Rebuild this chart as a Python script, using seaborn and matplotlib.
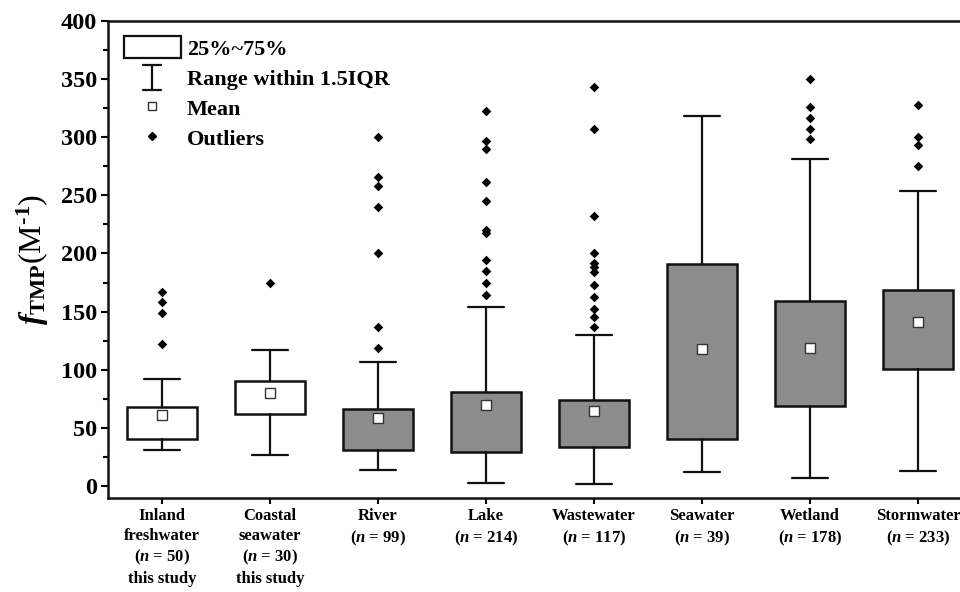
import pandas as pd
import numpy as np
import matplotlib
matplotlib.use('Agg')
import matplotlib.pyplot as plt
import seaborn as sns
from matplotlib.patches import Rectangle
from matplotlib.lines import Line2D
from matplotlib.legend_handler import HandlerBase
from matplotlib.ticker import MultipleLocator

# Data: fTMP box statistics
categories = ['Inland\nfreshwater\n($n$ = 50)\nthis study',
              'Coastal\nseawater\n($n$ = 30)\nthis study',
              'River\n($n$ = 99)', 'Lake\n($n$ = 214)', 'Wastewater\n($n$ = 117)',
              'Seawater\n($n$ = 39)', 'Wetland\n($n$ = 178)', 'Stormwater\n($n$ = 233)']
q1 = [41, 62, 31, 29, 34, 41, 69, 101]
q3 = [68, 90, 66, 81, 74, 191, 159, 169]
whis_low = [31, 27, 14, 3, 2, 12, 7, 13]
whis_high = [92, 117, 107, 154, 130, 318, 281, 254]
means = [61, 80, 59, 70, 65, 118, 119, 141]
outliers = [
    [122, 149, 158, 167],
    [175],
    [119, 137, 200, 240, 258, 266, 300],
    [164, 175, 185, 194, 218, 220, 245, 261, 290, 297, 322],
    [137, 145, 152, 163, 173, 184, 188, 192, 200, 232, 307, 343],
    [],
    [298, 307, 316, 326, 350],
    [275, 293, 300, 328],
]
box_colors = ['white', 'white', '#8c8c8c', '#8c8c8c', '#8c8c8c', '#8c8c8c', '#8c8c8c', '#8c8c8c']

sns.set_theme(style='ticks')
plt.rcParams['font.family'] = ['Liberation Serif', 'DejaVu Serif']
plt.rcParams['font.weight'] = 'bold'
plt.rcParams['mathtext.fontset'] = 'custom'
plt.rcParams['mathtext.rm'] = 'Liberation Serif:bold'
plt.rcParams['mathtext.bf'] = 'Liberation Serif:bold'
plt.rcParams['mathtext.it'] = 'Liberation Serif:bold:italic'
for key in ['text.color', 'axes.labelcolor', 'xtick.color', 'ytick.color']:
    plt.rcParams[key] = 'black'

fig = plt.figure(figsize=(9.6, 5.92), dpi=100)
ax = fig.add_axes([0.1125, 0.159, 0.9, 0.806])

stats = []
for i in range(len(categories)):
    stats.append(dict(q1=q1[i], q3=q3[i], med=q1[i], whislo=whis_low[i], whishi=whis_high[i],
                      mean=means[i], fliers=[], label=categories[i]))

bp = ax.bxp(stats, positions=range(len(categories)), widths=0.64, patch_artist=True,
            showmeans=True, showfliers=False,
            boxprops=dict(linewidth=1.8, edgecolor='#111111'),
            whiskerprops=dict(linewidth=1.6, color='#111111'),
            capprops=dict(linewidth=1.6, color='#111111'),
            medianprops=dict(visible=False),
            meanprops=dict(marker='s', markerfacecolor='white', markeredgecolor='#333333',
                           markersize=6.5, markeredgewidth=1.0),
            capwidths=0.34)
for patch, c in zip(bp['boxes'], box_colors):
    patch.set_facecolor(c)

fl = pd.DataFrame([(i, v) for i, vals in enumerate(outliers) for v in vals], columns=['pos', 'value'])
sns.scatterplot(data=fl, x='pos', y='value', marker='D', color='black', s=24, linewidth=0, ax=ax, zorder=3)

ax.set_xlim(-0.5, 7.5)
ax.set_ylim(-10, 400)
ax.set_xticks(range(len(categories)))
ax.set_xticklabels(categories, fontsize=12, fontweight='bold', linespacing=1.3)
ax.yaxis.set_major_locator(MultipleLocator(50))
ax.yaxis.set_minor_locator(MultipleLocator(25))
ax.tick_params(axis='y', which='major', labelsize=17.5, length=5, width=1.5, direction='out', pad=3)
ax.tick_params(axis='y', which='minor', length=3.5, width=1.5, direction='out')
ax.tick_params(axis='x', length=4.5, width=1.5, direction='out', pad=3)
for lab in ax.get_yticklabels():
    lab.set_fontweight('bold')
ax.set_xlabel('')
ax.set_ylabel(r'$f_{\mathrm{TMP}}$(M$^{\text{-1}}$)', fontsize=23, labelpad=7)
for s in ['left', 'bottom', 'top', 'right']:
    ax.spines[s].set_linewidth(1.8)
    ax.spines[s].set_color('#111111')


class WhiskerHandler(HandlerBase):
    def create_artists(self, legend, orig_handle, xdescent, ydescent, width, height, fontsize, trans):
        cx = width / 2 - xdescent
        y0 = -0.05 * height - ydescent
        y1 = 1.05 * height - ydescent
        w = 6.5
        kw = dict(color='#111111', linewidth=1.6, transform=trans)
        return [Line2D([cx, cx], [y0, y1], **kw),
                Line2D([cx - w, cx + w], [y0, y0], **kw),
                Line2D([cx - w, cx + w], [y1, y1], **kw)]


handles = [Rectangle((0, 0), 1, 1, facecolor='white', edgecolor='#111111', linewidth=1.6),
           'whisker',
           Line2D([], [], linestyle='none', marker='s', markerfacecolor='white',
                  markeredgecolor='#333333', markersize=6),
           Line2D([], [], linestyle='none', marker='D', color='black', markersize=4.5)]
labels = ['25%~75%', 'Range within 1.5IQR', 'Mean', 'Outliers']
ax.legend(handles, labels, loc='upper left', frameon=False, fontsize=16,
          handlelength=2.6, handleheight=1.15, handletextpad=0.25, labelspacing=0.3,
          borderaxespad=0.2, borderpad=0.5,
          handler_map={str: WhiskerHandler()})

fig.savefig('out.png', dpi=100)
